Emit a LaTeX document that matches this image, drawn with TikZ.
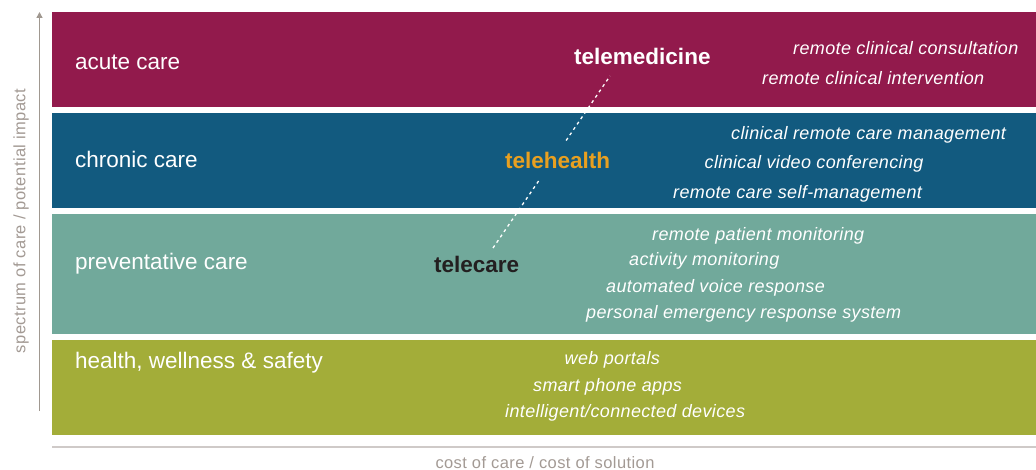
\documentclass[tikz,border=0pt]{standalone}
\usepackage{fontspec}
\usetikzlibrary{arrows.meta}
\setmainfont{Liberation Sans}
\newfontfamily\itemfont[LetterSpace=2]{Liberation Sans}
\newfontfamily\axisfont[LetterSpace=2.5]{Liberation Sans}
\definecolor{acute}{HTML}{921A4C}
\definecolor{chronic}{HTML}{125A7F}
\definecolor{prevent}{HTML}{71A99B}
\definecolor{wellness}{HTML}{A3AD39}
\definecolor{teleorange}{HTML}{E8A020}
\definecolor{teledark}{HTML}{231F20}
\definecolor{axistext}{HTML}{A39A94}
\definecolor{axisline}{HTML}{A09890}
\definecolor{xaxisgray}{HTML}{CFCAC8}
\tikzset{
  bandlabel/.style={anchor=mid west, inner sep=0pt, text=white, font=\fontsize{22.5}{26}\selectfont},
  itemlabel/.style={anchor=mid west, inner sep=0pt, text=white, font=\itemfont\itshape\fontsize{18}{21}\selectfont},
  telelabel/.style={anchor=mid west, inner sep=0pt, font=\bfseries\fontsize{22.5}{26}\selectfont},
  axislabel/.style={inner sep=0pt, text=axistext, font=\axisfont\fontsize{16.5}{19}\selectfont},
  linkline/.style={white, line width=1.3pt, dash pattern=on 3pt off 3.5pt}
}
\begin{document}
\begin{tikzpicture}[x=1pt,y=-1pt]
\useasboundingbox (0,0) rectangle (1036,470);
% bands
\fill[acute] (52,12) rectangle (1036,107.5);
\fill[chronic] (52,113.5) rectangle (1036,208.5);
\fill[prevent] (52,214.5) rectangle (1036,333.5);
\fill[wellness] (52,339.5) rectangle (1036,435);
% axes
\coordinate (ybot) at (39.5,411);
\coordinate (ytop) at (39.5,12);
\draw[axisline, line width=1.3pt, -{Triangle[width=6pt,length=6pt]}] (ybot) -- (ytop);
\coordinate (xl) at (52,446.5);
\coordinate (xr) at (1036,446.5);
\draw[draw=xaxisgray, line width=2pt] (xl) -- (xr);
\node[axislabel, rotate=90] (ylab) at (21,221) {spectrum of care / potential impact};
\node[axislabel, anchor=mid] (xlab) at (545,466) {cost of care / cost of solution};
% band labels
\node[bandlabel] (acuteL) at (75,67) {acute care};
\node[bandlabel] (chronicL) at (75,165) {chronic care};
\node[bandlabel] (preventL) at (75,266.5) {preventative care};
\node[bandlabel] (wellL) at (75,365.5) {health, wellness \& safety};
% items
\node[itemlabel] (i1) at (793,52) {remote clinical consultation};
\node[itemlabel] (i2) at (762,81.5) {remote clinical intervention};
\node[itemlabel] (i3) at (731,136.5) {clinical remote care management};
\node[itemlabel] (i4) at (704.5,165.5) {clinical video conferencing};
\node[itemlabel] (i5) at (673,195.5) {remote care self-management};
\node[itemlabel] (i6) at (652,237.5) {remote patient monitoring};
\node[itemlabel] (i7) at (629,263) {activity monitoring};
\node[itemlabel] (i8) at (606,289.5) {automated voice response};
\node[itemlabel] (i9) at (586,315.5) {personal emergency response system};
\node[itemlabel] (i10) at (564.5,361.5) {web portals};
\node[itemlabel] (i11) at (533,388.5) {smart phone apps};
\node[itemlabel] (i12) at (505,414.5) {intelligent/connected devices};
% tele labels and link
\node[telelabel, text=white] (telemed) at (574,62) {telemedicine};
\node[telelabel, text=teledark] (telecare) at (434,269.5) {telecare};
\coordinate (linkA) at (493,248);
\coordinate (linkB) at (610,76);
\draw[linkline] (linkA) -- (linkB);
\node[telelabel, text=teleorange, fill=chronic, inner xsep=4pt, inner ysep=10pt] (telehealth) at (501,166) {telehealth};
\end{tikzpicture}
\end{document}
